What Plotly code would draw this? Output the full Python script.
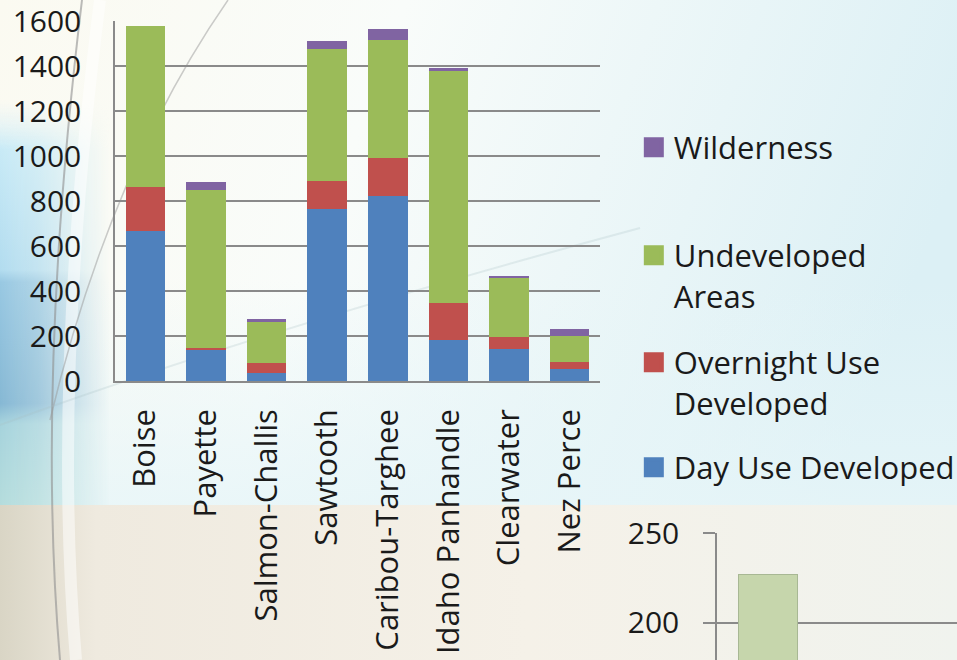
import base64

import plotly.graph_objects as go

# ---- data ----
forests = ['Boise', 'Payette', 'Salmon-Challis', 'Sawtooth',
           'Caribou-Targhee', 'Idaho Panhandle', 'Clearwater', 'Nez Perce']

day_use = [667, 138, 34, 764, 821, 182, 142, 52]
overnight_use = [194, 10, 46, 125, 172, 166, 52, 34]
undeveloped = [718, 702, 182, 588, 524, 1031, 268, 113]
wilderness = [0, 34, 12, 34, 46, 12, 6, 31]

# second (cropped) chart peeking in at the bottom right
inset_x = [0]
inset_values = [227]

FONT = 'Open Sans'
GRID = '#8a8a8a'

series = [
    ('Day Use Developed', day_use, '#4f81bd', 'legend4'),
    ('Overnight Use<br>Developed', overnight_use, '#c0504d', 'legend3'),
    ('Undeveloped<br>Areas', undeveloped, '#9bbb59', 'legend2'),
    ('Wilderness', wilderness, '#8064a2', 'legend'),
]

# slide-like background drawn as an svg picture
bg_svg = '''<svg xmlns="http://www.w3.org/2000/svg" width="957" height="660"
 viewBox="0 0 957 660" preserveAspectRatio="none">
<defs>
<linearGradient id="sky" x1="0" y1="0" x2="1" y2="0.25">
<stop offset="0" stop-color="#fbfaf1"/>
<stop offset="0.4" stop-color="#f9fcfa"/>
<stop offset="1" stop-color="#dcf0f5"/>
</linearGradient>
<linearGradient id="mist" x1="0" y1="0" x2="0" y2="1">
<stop offset="0" stop-color="#e6f5f8" stop-opacity="0"/>
<stop offset="1" stop-color="#e6f5f8" stop-opacity="0.8"/>
</linearGradient>
<linearGradient id="side" x1="0" y1="0" x2="0" y2="1">
<stop offset="0" stop-color="#e3f3f8" stop-opacity="0"/>
<stop offset="0.12" stop-color="#c8eaf6"/>
<stop offset="0.42" stop-color="#b2dcef"/>
<stop offset="0.45" stop-color="#98c8e2"/>
<stop offset="0.75" stop-color="#86b8d4"/>
<stop offset="0.8" stop-color="#a6d3dc"/>
<stop offset="1" stop-color="#b4dcdc"/>
</linearGradient>
<linearGradient id="fade" x1="0" y1="0" x2="1" y2="0">
<stop offset="0" stop-color="#fff"/>
<stop offset="0.35" stop-color="#fff" stop-opacity="0.75"/>
<stop offset="1" stop-color="#fff" stop-opacity="0"/>
</linearGradient>
<mask id="sidemask"><rect y="100" width="110" height="405" fill="url(#fade)"/></mask>
<linearGradient id="sand" x1="0" y1="0" x2="1" y2="0">
<stop offset="0" stop-color="#d9d5c5"/>
<stop offset="0.1" stop-color="#efeadf"/>
<stop offset="0.55" stop-color="#f5f1e8"/>
<stop offset="1" stop-color="#f0f3ee"/>
</linearGradient>
</defs>
<rect width="957" height="660" fill="url(#sky)"/>
<rect y="280" width="957" height="225" fill="url(#mist)"/>
<rect y="100" width="110" height="405" fill="url(#side)" mask="url(#sidemask)"/>
<rect y="505" width="957" height="155" fill="url(#sand)"/>
<path d="M 100 0 Q 52 380 76 660" stroke="#ffffff" stroke-width="12"
 fill="none" opacity="0.5"/>
<path d="M 82 0 Q 36 380 60 660" stroke="#8f8f8f" stroke-width="2"
 fill="none" opacity="0.6"/>
<path d="M 228 0 Q 110 170 50 420" stroke="#9a9a9a" stroke-width="1.5"
 fill="none" opacity="0.5"/>
<path d="M 0 425 Q 260 330 640 228" stroke="#a9bfc4" stroke-width="2"
 fill="none" opacity="0.25"/>
</svg>'''
bg_uri = 'data:image/svg+xml;base64,' + base64.b64encode(bg_svg.encode()).decode()

fig = go.Figure()

for name, values, color, legend in series:
    fig.add_trace(go.Bar(
        x=forests, y=values, name=name,
        marker=dict(color=color, line=dict(width=0)),
        legendgroup=name, showlegend=False,
    ))
    # legend entry only: bar legend swatches are fixed at 12px, too small here
    fig.add_trace(go.Scatter(
        x=[None], y=[None], mode='markers', name=name,
        marker=dict(symbol='square', size=16, color=color,
                    line=dict(color=color, width=4)),
        legendgroup=name, legend=legend,
    ))

fig.add_trace(go.Bar(
    x=inset_x, y=inset_values, width=0.8,
    marker=dict(color='#c6d6ac', line=dict(color='#a8b894', width=1)),
    xaxis='x2', yaxis='y2', showlegend=False,
))

legend_style = dict(
    font=dict(family=FONT, size=31, color='#1a1a1a'),
    bgcolor='rgba(0,0,0,0)', xanchor='left', yanchor='top',
    valign='top', x=0.6623, itemsizing='trace',
)

fig.update_layout(
    width=957, height=660,
    margin=dict(l=0, r=0, t=0, b=0, autoexpand=False),
    paper_bgcolor='#f7fbfa',
    plot_bgcolor='rgba(255,255,255,0.3)',
    barmode='stack', bargap=0.35,
    font=dict(family=FONT, size=30, color='#1a1a1a'),
    images=[dict(source=bg_uri, xref='paper', yref='paper', x=0, y=1,
                 sizex=1, sizey=1, sizing='stretch', layer='below')],
    xaxis=dict(
        domain=[115 / 957, 600 / 957],
        tickangle=-90, ticklabelstandoff=14,
        tickfont=dict(size=31), ticklabeloverflow='allow',
        showline=True, linecolor=GRID, linewidth=1.5,
        showgrid=False, ticks='',
    ),
    yaxis=dict(
        domain=[(660 - 381) / 660, (660 - 21) / 660],
        range=[0, 1600], dtick=200,
        showline=True, linecolor=GRID, linewidth=1.5,
        gridcolor=GRID, gridwidth=1.5, zeroline=False,
        ticks='', ticklabelstandoff=26, ticklabeloverflow='allow',
    ),
    xaxis2=dict(
        domain=[717 / 957, 1], anchor='y2',
        range=[-0.698, 2.556], showticklabels=False,
        showgrid=False, zeroline=False, ticks='',
    ),
    yaxis2=dict(
        domain=[0, (660 - 533) / 660], anchor='x2',
        range=[179.44, 250], dtick=50,
        showline=True, linecolor=GRID, linewidth=1.5,
        gridcolor=GRID, gridwidth=1.5, zeroline=False,
        ticks='outside', ticklen=12, tickcolor=GRID, tickwidth=1.5,
        ticklabelstandoff=18, ticklabeloverflow='allow',
    ),
    legend=dict(legend_style, y=(660 - 120.5) / 660),
    legend2=dict(legend_style, y=(660 - 228.5) / 660),
    legend3=dict(legend_style, y=(660 - 335.5) / 660),
    legend4=dict(legend_style, y=(660 - 440.5) / 660),
)

# the page would otherwise keep the browser's default 8px body margin
fig.write_html('out.html', config={'displayModeBar': False},
               post_script="document.body.style.margin = '0';")
